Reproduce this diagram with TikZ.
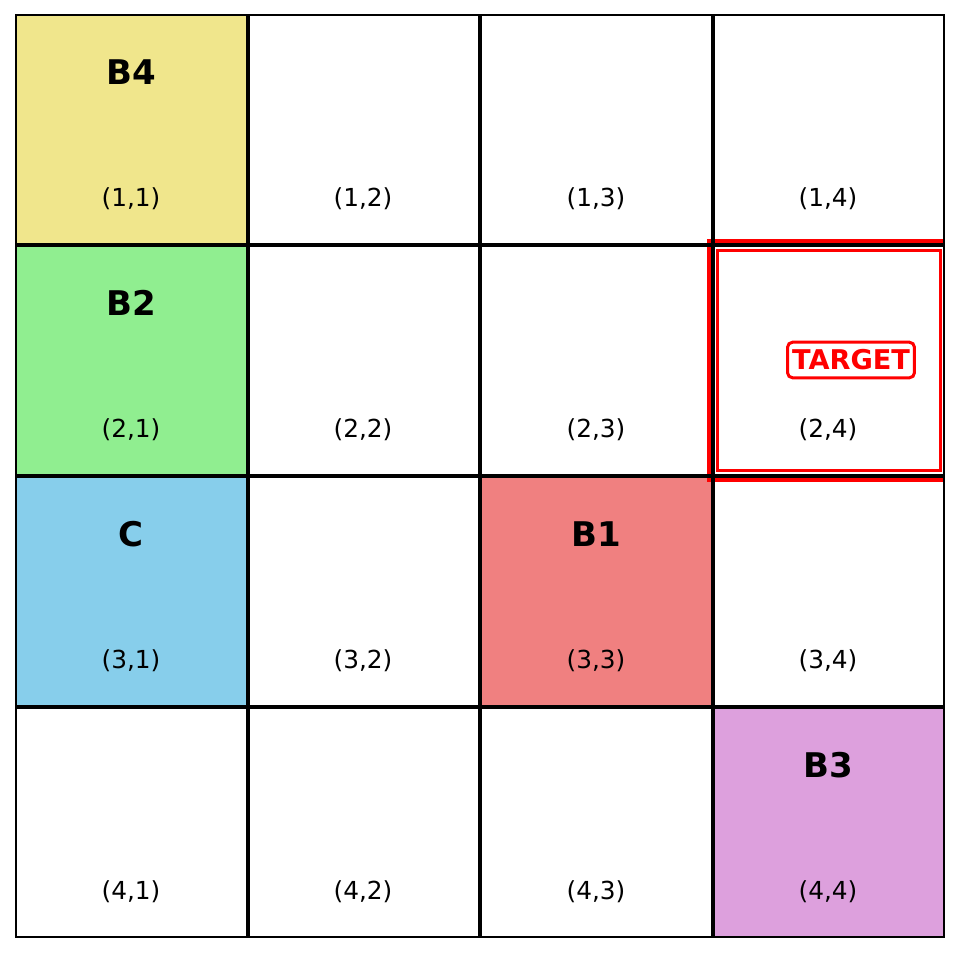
\documentclass[tikz,border=0pt]{standalone}
\usepackage{fontspec}
\setmainfont{DejaVu Sans}
\definecolor{khakiC}{HTML}{F0E68C}
\definecolor{greenC}{HTML}{90EE90}
\definecolor{skyC}{HTML}{87CEEB}
\definecolor{coralC}{HTML}{F08080}
\definecolor{plumC}{HTML}{DDA0DD}
\tikzset{
  blabel/.style={font=\fontsize{34}{38}\selectfont\bfseries, text=black, inner sep=0pt},
  clabel/.style={font=\fontsize{24.8}{28}\selectfont, text=black, inner sep=0pt},
  tlabel/.style={font=\fontsize{27.2}{30}\selectfont\bfseries, text=red, draw=red, line width=3pt, fill=white, rounded corners=5pt, inner xsep=4.5pt, inner ysep=7.5pt},
  gridin/.style={line width=3.8pt, black},
  gridout/.style={line width=2pt, black}
}
\begin{document}
\begin{tikzpicture}[x=1pt,y=-1pt]
\useasboundingbox (0,0) rectangle (959,953);
\fill[white] (0,0) rectangle (959,953);
% cell fills
\fill[khakiC] (16,15) rectangle (248,245);
\fill[greenC] (16,245) rectangle (248,476);
\fill[skyC] (16,476) rectangle (248,707);
\fill[coralC] (480,476) rectangle (713,707);
\fill[plumC] (713,707) rectangle (944,937);
% target highlight (outer band)
\begin{scope}
\clip (16,15) rectangle (944,937);
\draw[red, line width=6pt] (710,242) rectangle (947,479);
\end{scope}
% target inner frame
\draw[red, line width=3.2pt] (717.3,250.3) rectangle (940.3,470.3);
% interior grid lines
\foreach \x in {248,480,713} \draw[gridin] (\x,15) -- (\x,937);
\foreach \y in {245,476,707} \draw[gridin] (16,\y) -- (944,\y);
% outer border
\draw[gridout] (16,15) rectangle (944,937);
% block labels
\node[blabel] (b4) at (131,72) {B4};
\node[blabel] (b2) at (131,303) {B2};
\node[blabel] (c) at (131,534) {C};
\node[blabel] (b1) at (596,534) {B1};
\node[blabel] (b3) at (828,765) {B3};
% target label
\node[tlabel] (tgt) at (851,360) {TARGET};
% coordinate labels
\foreach \r/\yy in {1/199,2/430,3/661,4/892}{
  \foreach \c/\xx in {1/131,2/363,3/596,4/828}{
    \node[clabel] (c\r\c) at (\xx,\yy) {(\r,\c)};
  }
}
\end{tikzpicture}
\end{document}
